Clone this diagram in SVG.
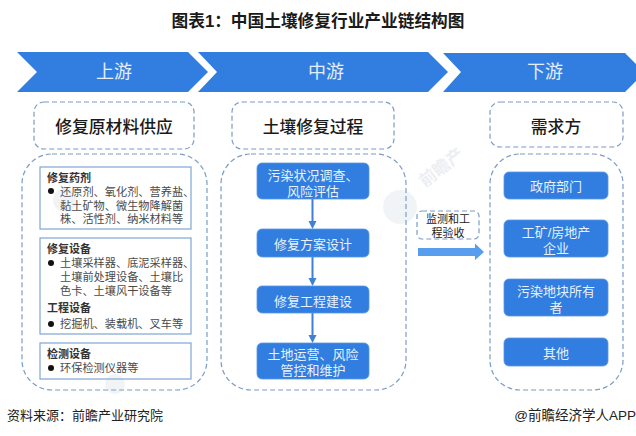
<svg xmlns="http://www.w3.org/2000/svg" width="636" height="436" viewBox="0 0 636 436">
<defs>
<style>
text{font-family:"Liberation Sans","Noto Sans CJK SC",sans-serif;text-anchor:middle}
.chev{fill:#317ee0}
.chevt{fill:#e4eefb;font-size:18px}
.dash{fill:#fff;stroke:#7a9cc8;stroke-width:1.2;stroke-dasharray:5 3}
.head{fill:#1a1a1a;font-size:16.800px;font-weight:500}
.lbox{fill:#fff;stroke:#7ea6d2;stroke-width:1.2}
.lb{fill:#333;font-size:11px;font-weight:700;text-anchor:start}
.lt{fill:#4a4a4a;font-size:11.200px;text-anchor:start}
.blt{fill:#111}
.node{fill:#317ee0;stroke:#5a97e6;stroke-width:.8}
.nt{fill:#e8f1fc;font-size:13px}
.con{stroke:#3f7fd6;stroke-width:2;fill:none}
.tip{fill:#3f7fd6}
.wm{fill:#9fb0c4;opacity:.2;font-size:17px;font-weight:700}
.logo{fill:#9fb0c4;opacity:.14}
</style>
</defs>
<rect width="636" height="436" fill="#fff"/>
<text x="318" y="27" font-size="16.700" font-weight="700" fill="#1a1a1a">图表1：中国土壤修复行业产业链结构图</text>

<g id="stage-upstream"><polygon class="chev" points="17,52 188,52 208,72 188,92 17,92 37,72"/><text class="chevt" x="114" y="78">上游</text></g>
<g id="stage-midstream"><polygon class="chev" points="198,52 428,52 448,72 428,92 198,92 217,72"/><text class="chevt" x="326" y="78">中游</text></g>
<g id="stage-downstream"><polygon class="chev" points="443,53 625,53 636,64 636,81 625,92 443,92 461,72"/><text class="chevt" x="545" y="78">下游</text></g>

<g id="head-materials"><rect class="dash" x="34" y="102" width="160" height="47" rx="10"/><text class="head" x="114" y="133">修复原材料供应</text></g>
<g id="head-process"><rect class="dash" x="232" y="102" width="162" height="47" rx="10"/><text class="head" x="313" y="133">土壤修复过程</text></g>
<g id="head-demand"><rect class="dash" x="490" y="102" width="133" height="45" rx="10"/><text class="head" x="556" y="133">需求方</text></g>

<g id="panel-left"><rect class="dash" x="22" y="154" width="185" height="236" rx="30"/></g>
<g id="panel-mid"><rect class="dash" x="221" y="154" width="185" height="236" rx="30"/></g>
<g id="panel-right"><rect class="dash" x="490" y="154" width="133" height="236" rx="30"/></g>

<g id="box-agents"><rect class="lbox" x="40" y="167" width="151" height="62"/>
<text class="lb" x="47" y="182">修复药剂</text>
<circle class="blt" cx="51" cy="191" r="3"/>
<text class="lt" x="60" y="196">还原剂、氧化剂、营养盐、</text>
<text class="lt" x="60" y="210">黏土矿物、微生物降解菌</text>
<text class="lt" x="60" y="223">株、活性剂、纳米材料等</text></g>

<g id="box-equipment"><rect class="lbox" x="40" y="238" width="151" height="96"/>
<text class="lb" x="47" y="253">修复设备</text>
<circle class="blt" cx="51" cy="263" r="3"/>
<text class="lt" x="60" y="267">土壤采样器、底泥采样器、</text>
<text class="lt" x="60" y="281">土壤前处理设备、土壤比</text>
<text class="lt" x="60" y="295">色卡、土壤风干设备等</text>
<text class="lb" x="47" y="312">工程设备</text>
<circle class="blt" cx="51" cy="324" r="3"/>
<text class="lt" x="60" y="328">挖掘机、装载机、叉车等</text></g>

<g id="box-testing"><rect class="lbox" x="40" y="343" width="151" height="36"/>
<text class="lb" x="47" y="358">检测设备</text>
<circle class="blt" cx="51" cy="368" r="3"/>
<text class="lt" x="60" y="372">环保检测仪器等</text></g>

<g id="connectors">
<line class="con" x1="312.500" y1="199" x2="312.500" y2="222"/><polygon class="tip" points="308.500,221 316.500,221 312.500,229"/>
<line class="con" x1="312.500" y1="257" x2="312.500" y2="279"/><polygon class="tip" points="308.500,278 316.500,278 312.500,286"/>
<line class="con" x1="312.500" y1="313" x2="312.500" y2="336"/><polygon class="tip" points="308.500,335 316.500,335 312.500,343"/>
<polygon id="flow-arrow" fill="#589dee" points="418,248 475,248 475,243.500 484,252 475,260 475,256 418,256"/>
</g>

<g id="n1"><rect class="node" x="257" y="163" width="112" height="36" rx="5"/><text class="nt" x="313" y="180">污染状况调查、</text><text class="nt" x="313" y="196">风险评估</text></g>
<g id="n2"><rect class="node" x="257" y="229" width="112" height="28" rx="5"/><text class="nt" x="313" y="249">修复方案设计</text></g>
<g id="n3"><rect class="node" x="257" y="286" width="112" height="27" rx="5"/><text class="nt" x="313" y="306">修复工程建设</text></g>
<g id="n4"><rect class="node" x="257" y="343" width="112" height="36" rx="5"/><text class="nt" x="313" y="359">土地运营、风险</text><text class="nt" x="313" y="375">管控和维护</text></g>

<g id="label-monitor"><rect class="dash" x="417" y="211" width="62" height="28" rx="5"/><text x="448" y="223" font-size="11" fill="#222">监测和工</text><text x="448" y="237" font-size="11" fill="#222">程验收</text></g>

<g id="d1"><rect class="node" x="504" y="172" width="104" height="27" rx="5"/><text class="nt" x="556" y="191">政府部门</text></g>
<g id="d2"><rect class="node" x="504" y="220" width="104" height="37" rx="5"/><text class="nt" x="556" y="237">工矿/房地产</text><text class="nt" x="556" y="253">企业</text></g>
<g id="d3"><rect class="node" x="504" y="279" width="104" height="37" rx="5"/><text class="nt" x="556" y="296">污染地块所有</text><text class="nt" x="556" y="312">者</text></g>
<g id="d4"><rect class="node" x="504" y="338" width="104" height="28" rx="5"/><text class="nt" x="556" y="358">其他</text></g>

<g id="watermark">
<circle class="logo" cx="400" cy="207" r="17"/>
<circle class="logo" cx="65" cy="200" r="12"/>
<circle class="logo" cx="115" cy="384" r="10"/>
<text class="wm" transform="translate(445 172) rotate(-38)">前瞻产</text>
</g>

<text x="7" y="420" font-size="13" fill="#222" style="text-anchor:start">资料来源：前瞻产业研究院</text>
<text x="636" y="420" font-size="13.500" fill="#222" style="text-anchor:end">@前瞻经济学人APP</text>
</svg>
